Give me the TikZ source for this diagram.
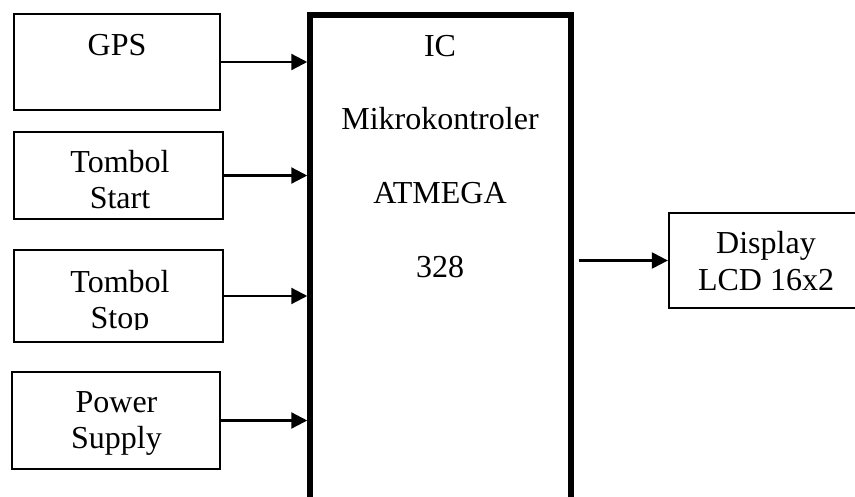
\documentclass[tikz,border=0pt]{standalone}
\usepackage{fontspec}
\setmainfont{Liberation Serif}
\usetikzlibrary{arrows.meta}
\begin{document}
\begin{tikzpicture}[x=1pt,y=-1pt,
  blk/.style={draw,line width=2.3pt,inner sep=0pt,rectangle},
  icblk/.style={draw,line width=5.5pt,inner sep=0pt,rectangle},
  txt/.style={inner sep=0pt,anchor=base,font=\fontsize{32}{36}\selectfont},
  arr/.style={line width=2.3pt,-{Triangle[length=16pt,width=16pt]}}]
\useasboundingbox (0,0) rectangle (855,496);
\clip (0,0) rectangle (855,496);
% boxes
\node[blk,minimum width=206pt,minimum height=96pt] (gps) at (117,62) {};
\node[blk,minimum width=209pt,minimum height=87pt] (start) at (118.5,175.5) {};
\node[blk,minimum width=209pt,minimum height=92pt] (stop) at (118.5,296) {};
\node[blk,minimum width=208pt,minimum height=97pt] (power) at (116,420.5) {};
\node[icblk,minimum width=261pt,minimum height=520pt] (ic) at (440.5,275) {};
\node[blk,minimum width=200pt,minimum height=95pt] (disp) at (769,260.5) {};
% texts
\node[txt] (tgps) at (117,55) {GPS};
\node[txt] (tstart1) at (120,172) {Tombol};
\node[txt] (tstart2) at (120,208) {Start};
\node[txt] (tstop1) at (120,292) {Tombol};
\begin{scope}
\clip (0,0) rectangle (300,329);
\node[txt] (tstop2) at (120,328) {Stop};
\end{scope}
\node[txt] (tpow1) at (116.5,412) {Power};
\node[txt] (tpow2) at (116.5,448) {Supply};
\node[txt] (tic1) at (440,56) {IC};
\node[txt] (tic2) at (440,129) {Mikrokontroler};
\node[txt] (tic3) at (440,203) {ATMEGA};
\node[txt] (tic4) at (440,277) {328};
\node[txt] (td1) at (766,253) {Display};
\node[txt] (td2) at (766,290) {LCD 16x2};
% connectors
\draw[arr] (gps.east) -- (gps.east -| ic.west);
\draw[arr] (start.east) -- (start.east -| ic.west);
\draw[arr] (stop.east) -- (stop.east -| ic.west);
\draw[arr] (power.east) -- (power.east -| ic.west);
\coordinate (dstart) at ([xshift=5pt]ic.east |- disp.west);
\draw[arr] (dstart) -- (disp.west);
\end{tikzpicture}
\end{document}
